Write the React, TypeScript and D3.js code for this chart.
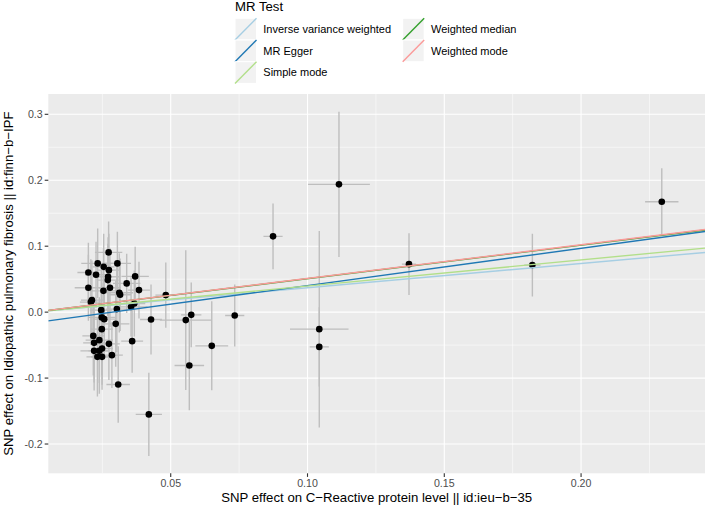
import React from 'react';
import * as d3 from 'd3';

// SNP effects on exposure (x) and outcome (y) with standard errors
const snpX = [0.0273, 0.0233, 0.0305, 0.0255, 0.0274, 0.0199, 0.0227, 0.0370, 0.0271, 0.0270,
  0.0339, 0.0199, 0.0278, 0.0384, 0.0254, 0.0312, 0.0315, 0.0212, 0.0208, 0.0367,
  0.0355, 0.0246, 0.0303, 0.0248, 0.0257, 0.0299, 0.0248, 0.0217, 0.0239, 0.0220,
  0.0274, 0.0359, 0.0220, 0.0239, 0.0249, 0.0232, 0.0249, 0.0285, 0.0308, 0.0420,
  0.0428, 0.0482, 0.0555, 0.0575, 0.0568, 0.0650, 0.0734, 0.0874, 0.1115, 0.1043,
  0.1043, 0.1371, 0.1822, 0.2295];
const snpY = [0.0906, 0.0739, 0.0739, 0.0687, 0.0637, 0.0602, 0.0566, 0.0542, 0.0536, 0.0486,
  0.0436, 0.0369, 0.0369, 0.0334, 0.0323, 0.0293, 0.0263, 0.0182, 0.0152, 0.0132,
  0.0080, 0.0030, 0.0046, -0.0080, -0.0106, -0.0178, -0.0258, -0.0360, -0.0425, -0.0466,
  -0.0481, -0.0440, -0.0587, -0.0587, -0.0551, -0.0678, -0.0678, -0.0652, -0.1097, -0.1551,
  -0.0111, 0.0258, -0.0121, -0.0041, -0.0809, -0.0511, -0.0050, 0.1149, 0.1938, -0.0258,
  -0.0527, 0.0728, 0.0713, 0.1674];
const seX = [0.005, 0.006, 0.005, 0.004, 0.004, 0.004, 0.004, 0.005, 0.004, 0.004,
  0.005, 0.005, 0.004, 0.004, 0.005, 0.005, 0.004, 0.004, 0.004, 0.004,
  0.006, 0.004, 0.004, 0.005, 0.004, 0.005, 0.004, 0.004, 0.005, 0.004,
  0.004, 0.004, 0.005, 0.004, 0.004, 0.004, 0.004, 0.004, 0.0043, 0.0048,
  0.004, 0.0038, 0.0095, 0.0037, 0.0054, 0.006, 0.0035, 0.0035, 0.0113, 0.0107,
  0.0035, 0.0026, 0.003, 0.0061];
const seY = [0.047, 0.053, 0.048, 0.05, 0.055, 0.045, 0.05, 0.045, 0.06, 0.055,
  0.045, 0.05, 0.06, 0.043, 0.065, 0.06, 0.055, 0.06, 0.065, 0.05,
  0.045, 0.06, 0.065, 0.07, 0.06, 0.065, 0.07, 0.06, 0.065, 0.06,
  0.055, 0.048, 0.06, 0.065, 0.055, 0.06, 0.05, 0.05, 0.058, 0.063,
  0.053, 0.0496, 0.106, 0.049, 0.068, 0.0675, 0.047, 0.05, 0.11, 0.149,
  0.06, 0.047, 0.0475, 0.0507];

const methods = ['Inverse variance weighted', 'MR Egger', 'Simple mode', 'Weighted median', 'Weighted mode'];
const slopes = [0.369, 0.565, 0.396, 0.508, 0.511];
const intercepts = [0, -0.0162, 0, 0, 0];
const colors = ['#a6cee3', '#1f78b4', '#b2df8a', '#33a02c', '#fb9a99'];

const xTicks = [0.05, 0.10, 0.15, 0.20];
const xMinor = [0.025, 0.075, 0.125, 0.175, 0.225];
const yTicks = [-0.2, -0.1, 0.0, 0.1, 0.2, 0.3];
const yMinor = [-0.15, -0.05, 0.05, 0.15, 0.25];
const xTickLabels = ['0.05', '0.10', '0.15', '0.20'];
const yTickLabels = ['-0.2', '-0.1', '0.0', '0.1', '0.2', '0.3'];

const W = 708, H = 510;
const P = { left: 48.3, right: 705, top: 94, bottom: 473.3 };
const FONT = 'Liberation Sans, Arial, sans-serif';

export default function App() {
  const x = d3.scaleLinear().domain([0.00525, 0.2453]).range([P.left, P.right]);
  const y = d3.scaleLinear().domain([-0.2444, 0.3308]).range([P.bottom, P.top]);
  const [x0, x1] = x.domain();

  const legendCols = [
    { keyX: 235, labelX: 263.3, items: [0, 1, 2] },
    { keyX: 402.7, labelX: 431, items: [3, 4] },
  ];
  const rowTop = [18.3, 40, 61.7];
  const keyW = 21.5, keyH = 21.7;

  return (
    <svg width={W} height={H} style={{ position: 'absolute', left: 0, top: 0, background: '#fff' }} fontFamily={FONT}>
      <defs>
        <clipPath id="panel">
          <rect x={P.left} y={P.top} width={P.right - P.left} height={P.bottom - P.top} />
        </clipPath>
      </defs>
      <rect x={0} y={0} width={W} height={H} fill="#fff" />
      {/* Legend */}
      <text x={235} y={10.5} fontSize={13.2} fill="#000">MR Test</text>
      {legendCols.map((col, ci) =>
        col.items.map((mi, ri) => (
          <g key={`${ci}-${ri}`}>
            <rect x={col.keyX} y={rowTop[ri]} width={keyW} height={keyH} fill="#f2f2f2" stroke="#fff" strokeWidth={1} />
            <line x1={col.keyX} y1={rowTop[ri] + keyH} x2={col.keyX + keyW} y2={rowTop[ri]} stroke={colors[mi]} strokeWidth={1.4} />
            <text x={col.labelX} y={rowTop[ri] + keyH / 2} dy="0.35em" fontSize={11} fill="#000">{methods[mi]}</text>
          </g>
        ))
      )}
      {/* Panel */}
      <rect x={P.left} y={P.top} width={P.right - P.left} height={P.bottom - P.top} fill="#ebebeb" />
      {xMinor.map((v) => (
        <line key={`xm${v}`} x1={x(v)} x2={x(v)} y1={P.top} y2={P.bottom} stroke="#fff" strokeWidth={0.55} />
      ))}
      {yMinor.map((v) => (
        <line key={`ym${v}`} x1={P.left} x2={P.right} y1={y(v)} y2={y(v)} stroke="#fff" strokeWidth={0.55} />
      ))}
      {xTicks.map((v) => (
        <line key={`xM${v}`} x1={x(v)} x2={x(v)} y1={P.top} y2={P.bottom} stroke="#fff" strokeWidth={1.1} />
      ))}
      {yTicks.map((v) => (
        <line key={`yM${v}`} x1={P.left} x2={P.right} y1={y(v)} y2={y(v)} stroke="#fff" strokeWidth={1.1} />
      ))}
      <g clipPath="url(#panel)">
        {snpX.map((v, i) => (
          <line key={`ev${i}`} x1={x(v)} x2={x(v)} y1={y(snpY[i] - seY[i])} y2={y(snpY[i] + seY[i])} stroke="#bebebe" strokeWidth={1.4} />
        ))}
        {snpX.map((v, i) => (
          <line key={`eh${i}`} x1={x(v - seX[i])} x2={x(v + seX[i])} y1={y(snpY[i])} y2={y(snpY[i])} stroke="#bebebe" strokeWidth={1.4} />
        ))}
        {snpX.map((v, i) => (
          <circle key={`p${i}`} cx={x(v)} cy={y(snpY[i])} r={3.3} fill="#000" />
        ))}
        {methods.map((m, i) => (
          <line key={m} x1={x(x0)} y1={y(intercepts[i] + slopes[i] * x0)} x2={x(x1)} y2={y(intercepts[i] + slopes[i] * x1)} stroke={colors[i]} strokeWidth={1.4} />
        ))}
      </g>
      {/* Axes */}
      {xTicks.map((v, i) => (
        <g key={`xt${v}`}>
          <line x1={x(v)} x2={x(v)} y1={P.bottom} y2={P.bottom + 3.6} stroke="#333" strokeWidth={1.1} />
          <text x={x(v)} y={487.3} textAnchor="middle" fontSize={10.6} fill="#4d4d4d">{xTickLabels[i]}</text>
        </g>
      ))}
      {yTicks.map((v, i) => (
        <g key={`yt${v}`}>
          <line x1={P.left - 3.6} x2={P.left} y1={y(v)} y2={y(v)} stroke="#333" strokeWidth={1.1} />
          <text x={42.7} y={y(v)} dy="0.35em" textAnchor="end" fontSize={10.6} fill="#4d4d4d">{yTickLabels[i]}</text>
        </g>
      ))}
      <text x={(P.left + P.right) / 2} y={502} textAnchor="middle" fontSize={13.2} fill="#000">SNP effect on C−Reactive protein level || id:ieu−b−35</text>
      <text transform={`translate(13.3,${(P.top + P.bottom) / 2}) rotate(-90)`} textAnchor="middle" fontSize={13.2} fill="#000">SNP effect on Idiopathic pulmonary fibrosis || id:finn−b−IPF</text>
    </svg>
  );
}
